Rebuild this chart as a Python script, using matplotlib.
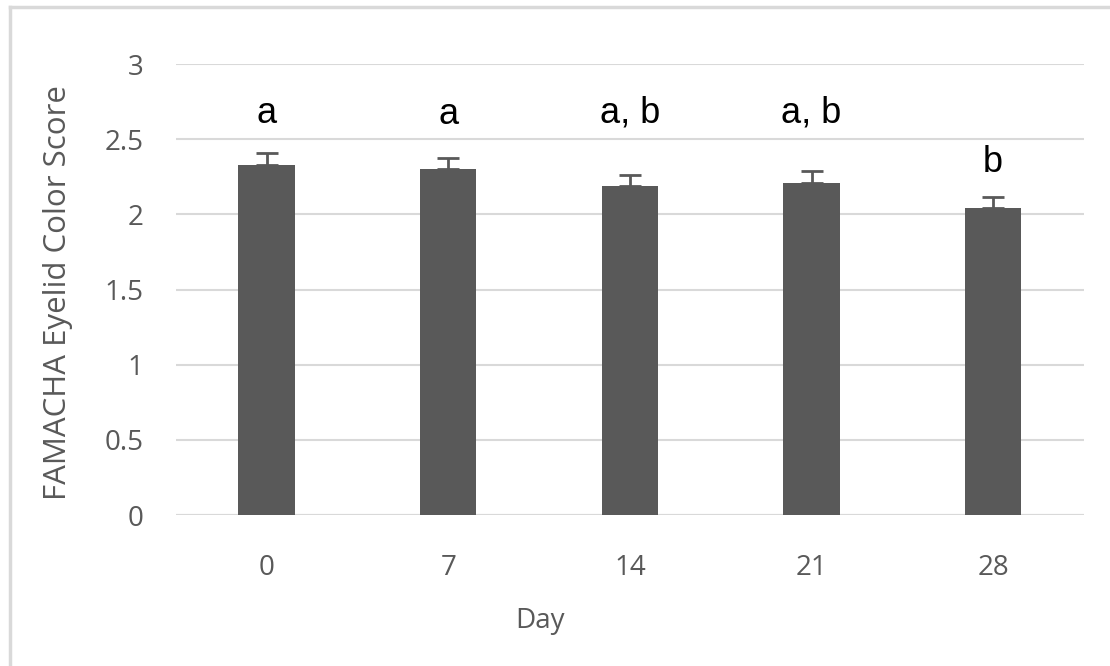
import matplotlib.pyplot as plt
from matplotlib.lines import Line2D

days = ["0", "7", "14", "21", "28"]
scores = [2.33, 2.30, 2.19, 2.21, 2.04]
errors = [0.075, 0.075, 0.075, 0.075, 0.075]
letters = ["a", "a", "a, b", "a, b", "b"]
letter_y = [2.61, 2.60, 2.61, 2.61, 2.28]

BAR = "#595959"
GRID = "#d9d9d9"
TEXT = "#595959"

fig = plt.figure(figsize=(11.1, 6.66), dpi=100)
ax = fig.add_axes([0.1583, 0.2267, 0.8183, 0.6772])

x = list(range(len(days)))
ax.bar(x, scores, width=0.31, color=BAR, zorder=3)
ax.errorbar(x, scores, yerr=[[0] * len(errors), errors], fmt="none",
            ecolor=BAR, elinewidth=2, capsize=8, capthick=2, zorder=4)

for xi, lab, ly in zip(x, letters, letter_y):
    ax.text(xi, ly, lab, ha="center", va="baseline", fontsize=26,
            family="Liberation Sans", color="black")

ax.set_xlim(-0.5, len(days) - 0.5)
ax.set_ylim(0, 3)
ax.set_yticks([0, 0.5, 1, 1.5, 2, 2.5, 3])
ax.set_yticklabels(["0", "0.5", "1", "1.5", "2", "2.5", "3"])
ax.set_xticks(x)
ax.set_xticklabels(days)
ax.yaxis.grid(True, color=GRID, linewidth=1.5, zorder=0)
for side in ["top", "right", "left", "bottom"]:
    ax.spines[side].set_visible(False)
ax.axhline(0, color=GRID, linewidth=1.5, zorder=2)
ax.tick_params(axis="both", length=0, labelsize=20, labelcolor=TEXT, pad=0)
ax.tick_params(axis="y", pad=23)
ax.tick_params(axis="x", pad=28)
for t in ax.get_xticklabels() + ax.get_yticklabels():
    t.set_family("Open Sans")

fig.text(540 / 1110, 1 - 621 / 666, "Day", ha="center", va="center",
         fontsize=20, color=TEXT, family="Open Sans")
fig.text(58 / 1110, 1 - 293 / 666, "FAMACHA Eyelid Color Score", ha="center",
         va="center", rotation=90, fontsize=22.5, color=TEXT, family="Open Sans")

# chart frame: only the top and left edges fall inside the image
fig.add_artist(Line2D([9.5 / 1110, 1108 / 1110], [1 - 7 / 666, 1 - 7 / 666],
                      color=GRID, linewidth=2.5, transform=fig.transFigure))
fig.add_artist(Line2D([9.5 / 1110, 9.5 / 1110], [0, 1 - 7 / 666],
                      color=GRID, linewidth=2.5, transform=fig.transFigure))

fig.savefig("out.png", dpi=100)
